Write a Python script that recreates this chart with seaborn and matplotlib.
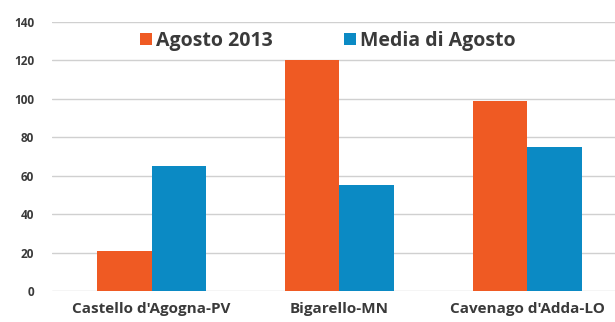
import matplotlib
matplotlib.use("Agg")
import matplotlib.pyplot as plt
import seaborn as sns
import pandas as pd
from matplotlib.patches import Patch

# Rainfall totals per station
stations = ["Castello d'Agogna-PV", "Bigarello-MN", "Cavenago d'Adda-LO"]
series_names = ["Agosto 2013", "Media di Agosto"]
agosto_2013 = [21, 120, 99]
media_agosto = [65, 55, 75]
y_ticks = [0, 20, 40, 60, 80, 100, 120, 140]

colors = ["#EF5A23", "#0B8AC4"]

df = pd.DataFrame({
    "stazione": stations * 2,
    "serie": [series_names[0]] * 3 + [series_names[1]] * 3,
    "valore": agosto_2013 + media_agosto,
})

sns.set_theme(style="white")
plt.rcParams["font.family"] = ["Open Sans", "DejaVu Sans"]

W, H = 615, 322
fig = plt.figure(figsize=(W / 100, H / 100), dpi=100)
# axes in pixel units: left 52, right 621 (runs past the canvas), bottom 291, top 22
ax = fig.add_axes([52 / W, (H - 291) / H, (621 - 52) / W, (291 - 22) / H])

sns.barplot(data=df, x="stazione", y="valore", hue="serie", palette=colors,
            width=0.58, gap=0, saturation=1, ax=ax, legend=False,
            edgecolor="none", linewidth=0)

ax.set_xlim(-0.53, 2.5)
ax.set_ylim(0, 140)
ax.set_yticks(y_ticks)
ax.set_yticklabels([str(t) for t in y_ticks])
ax.set_xlabel("")
ax.set_ylabel("")

ax.grid(axis="y", color="#d0d0d0", linewidth=1.0)
ax.set_axisbelow(True)
ax.axhline(140, color="#7a7a7a", linewidth=1.2, zorder=0.5)
for s in ax.spines.values():
    s.set_visible(False)

ax.tick_params(axis="y", length=0, pad=13, labelsize=8.5, labelcolor="#3a3a3a")
ax.tick_params(axis="x", length=0, pad=8, labelsize=11, labelcolor="#3a3a3a")
for lbl in ax.get_yticklabels() + ax.get_xticklabels():
    lbl.set_fontweight("bold")

handles = [Patch(facecolor=c, edgecolor="none") for c in colors]
fig.legend(handles, series_names, loc="center left", bbox_to_anchor=(140 / W, 1 - 41 / H),
           ncol=2, frameon=False, borderpad=0, borderaxespad=0,
           handlelength=0.6, handleheight=0.6,
           handletextpad=0.2, columnspacing=3.7,
           prop={"weight": "bold", "size": 14, "family": ["Open Sans", "DejaVu Sans"]},
           labelcolor="#3a3a3a")

fig.savefig("out.png", dpi=100, facecolor="white")
